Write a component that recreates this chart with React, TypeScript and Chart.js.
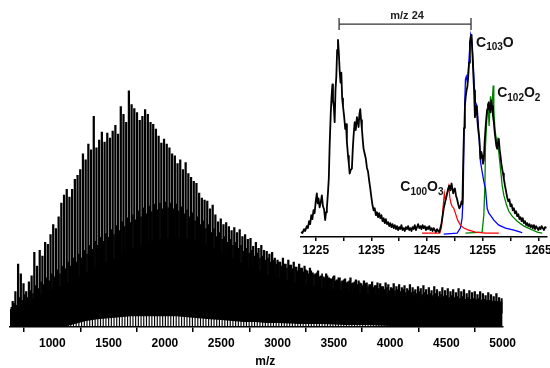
import React, { useEffect, useRef } from 'react';
import { Chart, registerables } from 'chart.js';

Chart.register(...registerables);

const FONT = '"Liberation Sans", Arial, sans-serif';

// ---------- Main spectrum data ----------
const MAJOR_START = 648; // m/z of first C2-series peak
const MINOR_START = 636; // m/z of first in-between peak
const PEAK_STEP = 24; // C2 spacing
const SPIKE_BASE = 14;

const MAJOR_TOP = [
  26, 36, 64, 54, 44, 36, 46, 52, 76, 62,
  78, 72, 86, 84, 94, 104, 100, 112, 126, 134,
  140, 132, 140, 150, 154, 160, 176, 170, 186, 180,
  214, 182, 190, 198, 188, 197, 192, 199, 205, 196,
  224, 216, 208, 240, 226, 222, 218, 210, 214, 221,
  216, 208, 206, 201, 194, 187, 191, 186, 182, 176,
  174, 166, 170, 160, 167, 156, 152, 148, 146, 136,
  131, 129, 128, 120, 124, 114, 107, 110, 104, 106,
  102, 98, 101, 96, 99, 92, 94, 89, 90, 82,
  86, 80, 83, 78, 77, 74, 76, 70, 68, 66,
  70, 64, 68, 63, 66, 61, 64, 60, 62, 57,
  60, 55, 54, 57, 52, 51, 54, 50, 49, 52,
  48, 50, 47, 49, 46, 50, 45, 48, 47, 44,
  47, 45, 43, 46, 42, 45, 44, 41, 45, 43,
  40, 44, 41, 43, 40, 42, 39, 43, 40, 38,
  41, 39, 42, 38, 40, 37, 41, 38, 36, 40,
  37, 39, 36, 38, 35, 39, 36, 38, 34, 37,
  35, 36, 33, 36, 34, 32, 35, 33, 31, 34,
  30, 29,
];

const MINOR_TOP = [
  20, 24, 22, 30, 27, 33, 30, 37, 34, 42,
  39, 46, 43, 50, 47, 54, 51, 58, 54, 62,
  59, 66, 62, 70, 66, 74, 70, 78, 74, 83,
  79, 87, 83, 91, 87, 95, 91, 99, 94, 103,
  98, 107, 102, 111, 106, 114, 109, 118, 112, 121,
  115, 123, 117, 125, 119, 126, 120, 127, 121, 126,
  120, 125, 118, 122, 115, 119, 112, 116, 108, 112,
  104, 108, 100, 104, 96, 100, 92, 96, 89, 92,
  86, 89, 83, 86, 80, 83, 77, 80, 75, 78,
  72, 75, 70, 72, 68, 70, 66, 68, 64, 66,
  62, 64, 60, 63, 59, 61, 57, 60, 56, 58,
  54, 57, 53, 55, 51, 54, 50, 52, 49, 51,
  47, 50, 46, 48, 45, 47, 44, 46, 43, 45,
  42, 44, 41, 43, 40, 42, 39, 41, 38, 40,
  37, 39, 37, 38, 36, 38, 35, 37, 35, 36,
  34, 36, 33, 35, 33, 34, 32, 34, 31, 33,
  31, 32, 30, 32, 30, 31, 29, 31, 28, 30,
  28, 29, 27, 29, 26, 28, 26, 27, 25, 26,
  24, 25,
];

const ENV_MZ = [
  624, 700, 800, 900, 1000, 1100, 1200, 1300, 1400, 1500,
  1600, 1700, 1800, 1900, 2000, 2100, 2200, 2300, 2400, 2500,
  2600, 2700, 2800, 2900, 3000, 3200, 3400, 3600, 3800, 4000,
  4200, 4400, 4600, 4800, 5000,
];
const ENV_LOW = [
  0, 0, 0, 0, 0, 0, 3, 6, 8, 9,
  10, 11, 11, 11, 11, 11, 10, 9, 8, 7,
  6, 5, 5, 4, 4, 3, 3, 2, 2, 1,
  0, 0, 0, 0, 0,
];
const ENV_DENSE = [
  18, 22, 28, 33, 38, 43, 49, 55, 61, 67,
  73, 79, 84, 88, 90, 91, 90, 87, 82, 76,
  70, 64, 59, 54, 50, 44, 40, 37, 34, 32,
  31, 30, 29, 28, 26,
];

const MAIN_TICKS = [1000, 1500, 2000, 2500, 3000, 3500, 4000, 4500, 5000];

// ---------- Inset data (m/z, intensity) ----------
const INSET_TICKS = [1225, 1230, 1235, 1240, 1245, 1250, 1255, 1260, 1265];

const INSET_BLACK: [number, number][] = [
  [1222.3, 5], [1222.6, 4], [1222.9, 8], [1223.1, 6], [1223.4, 11], [1223.6, 9], [1223.8, 16],
  [1224.0, 13], [1224.2, 22], [1224.4, 18], [1224.6, 27], [1224.8, 24], [1225.0, 36], [1225.2, 44],
  [1225.35, 34], [1225.5, 39], [1225.7, 30], [1225.9, 35], [1226.1, 42], [1226.3, 31], [1226.5, 28],
  [1226.7, 17], [1226.85, 25], [1227.0, 29], [1227.2, 45], [1227.35, 59], [1227.5, 92], [1227.7, 125],
  [1227.85, 142], [1228.0, 154], [1228.1, 138], [1228.25, 132], [1228.4, 116], [1228.55, 148],
  [1228.7, 162], [1228.85, 189], [1229.0, 199], [1229.15, 186], [1229.3, 168], [1229.45, 156],
  [1229.6, 166], [1229.75, 140], [1229.9, 132], [1230.1, 122], [1230.3, 109], [1230.45, 114],
  [1230.6, 96], [1230.8, 82], [1230.95, 74], [1231.1, 64], [1231.3, 68], [1231.5, 69], [1231.65, 88],
  [1231.8, 102], [1232.0, 116], [1232.2, 108], [1232.4, 121], [1232.55, 117], [1232.7, 111],
  [1232.85, 124], [1233.0, 129], [1233.15, 118], [1233.3, 109], [1233.45, 98], [1233.6, 89],
  [1233.8, 84], [1234.0, 79], [1234.2, 70], [1234.4, 66], [1234.6, 57], [1234.8, 49], [1235.0, 40],
  [1235.2, 32], [1235.4, 27], [1235.6, 29], [1235.8, 22], [1236.0, 25], [1236.2, 20], [1236.4, 24],
  [1236.6, 19], [1236.8, 22], [1237.0, 16], [1237.2, 19], [1237.4, 14], [1237.6, 18], [1237.8, 13],
  [1238.0, 15], [1238.2, 11], [1238.4, 14], [1238.6, 10], [1238.8, 13], [1239.0, 9], [1239.2, 12],
  [1239.4, 8], [1239.6, 11], [1239.8, 7], [1240.0, 10], [1240.2, 8], [1240.4, 12], [1240.6, 7],
  [1240.8, 9], [1241.0, 6], [1241.2, 10], [1241.4, 8], [1241.6, 11], [1241.8, 7], [1242.0, 9],
  [1242.2, 6], [1242.4, 10], [1242.6, 8], [1242.8, 12], [1243.0, 7], [1243.2, 10], [1243.4, 13],
  [1243.6, 9], [1243.8, 11], [1244.0, 8], [1244.2, 12], [1244.4, 9], [1244.6, 11], [1244.8, 7],
  [1245.0, 10], [1245.2, 8], [1245.4, 11], [1245.6, 7], [1245.8, 9], [1246.0, 6], [1246.2, 9],
  [1246.4, 7], [1246.6, 5], [1246.8, 8], [1247.0, 6], [1247.2, 5], [1247.4, 9], [1247.6, 14],
  [1247.8, 21], [1248.0, 29], [1248.2, 34], [1248.4, 39], [1248.6, 44], [1248.8, 49], [1249.0, 52],
  [1249.2, 47], [1249.4, 54], [1249.55, 49], [1249.7, 44], [1249.85, 48], [1250.0, 49], [1250.2, 42],
  [1250.4, 38], [1250.6, 33], [1250.8, 29], [1251.0, 31], [1251.2, 36], [1251.35, 33], [1251.5, 76],
  [1251.65, 110], [1251.8, 132], [1251.95, 142], [1252.1, 148], [1252.25, 152], [1252.4, 162],
  [1252.55, 176], [1252.7, 196], [1252.85, 202], [1253.0, 204], [1253.15, 186], [1253.3, 166],
  [1253.45, 148], [1253.6, 121], [1253.75, 128], [1253.9, 132], [1254.05, 118], [1254.2, 108],
  [1254.4, 99], [1254.6, 79], [1254.75, 86], [1254.9, 82], [1255.05, 74], [1255.2, 78], [1255.35, 96],
  [1255.5, 109], [1255.65, 120], [1255.8, 129], [1255.95, 134], [1256.1, 136], [1256.25, 128],
  [1256.4, 126], [1256.55, 138], [1256.7, 132], [1256.85, 122], [1257.0, 116], [1257.15, 106],
  [1257.3, 99], [1257.45, 92], [1257.6, 89], [1257.75, 96], [1257.9, 99], [1258.05, 88], [1258.2, 82],
  [1258.35, 74], [1258.5, 69], [1258.65, 64], [1258.8, 59], [1259.0, 52], [1259.2, 46], [1259.4, 40],
  [1259.6, 36], [1259.8, 38], [1260.0, 31], [1260.2, 33], [1260.4, 27], [1260.6, 29], [1260.8, 24],
  [1261.0, 26], [1261.2, 21], [1261.4, 23], [1261.6, 18], [1261.8, 20], [1262.0, 16], [1262.2, 19],
  [1262.4, 14], [1262.6, 16], [1262.8, 12], [1263.0, 14], [1263.2, 11], [1263.4, 13], [1263.6, 10],
  [1263.8, 12], [1264.0, 9], [1264.2, 12], [1264.4, 8], [1264.6, 11], [1264.8, 9], [1265.0, 7],
  [1265.2, 10], [1265.4, 8], [1265.6, 11], [1265.8, 9], [1266.0, 7], [1266.2, 10], [1266.5, 9],
];

// simulated isotope pattern C100O3
const INSET_RED: [number, number][] = [
  [1244.1, 4], [1247.3, 4], [1247.6, 10], [1247.85, 28], [1248.1, 44], [1248.3, 37], [1248.5, 40],
  [1248.9, 51], [1249.1, 40], [1249.3, 34], [1249.5, 31], [1249.8, 29], [1250.1, 24], [1250.5, 17],
  [1251.0, 12], [1251.6, 9], [1252.5, 7], [1253.7, 5], [1255.5, 4], [1257.9, 4],
];
// simulated isotope pattern C103O
const INSET_BLUE: [number, number][] = [
  [1248.0, 3], [1250.4, 4], [1251.0, 9], [1251.3, 19], [1251.5, 42], [1251.65, 109], [1251.9, 159],
  [1252.05, 162], [1252.25, 156], [1252.4, 166], [1252.6, 185], [1252.85, 204], [1253.0, 200],
  [1253.3, 175], [1253.5, 152], [1253.7, 136], [1254.0, 132], [1254.3, 106], [1254.6, 76],
  [1254.9, 66], [1255.2, 56], [1255.5, 49], [1255.8, 29], [1256.1, 24], [1256.5, 21], [1257.0, 17],
  [1257.9, 12], [1259.1, 9], [1260.6, 7], [1261.8, 5], [1262.1, 4],
];
// simulated isotope pattern C102O2
const INSET_GREEN: [number, number][] = [
  [1251.9, 4], [1254.9, 5], [1255.2, 22], [1255.4, 52], [1255.5, 92], [1255.8, 126], [1256.0, 129],
  [1256.15, 112], [1256.4, 142], [1256.6, 129], [1256.9, 153], [1257.0, 129], [1257.2, 109],
  [1257.5, 96], [1257.7, 99], [1257.95, 82], [1258.2, 69], [1258.5, 52], [1258.8, 42], [1259.3, 32],
  [1259.7, 26], [1260.3, 21], [1261.2, 16], [1262.4, 11], [1263.6, 8], [1264.8, 5], [1265.7, 4],
];

const SPACING_MARK = [1229.2, 1252.9];
const SPACING_LABEL = 'm/z 24';
const SPACING_LEVEL = 215;

type Part = [string, boolean];
const FORMULA_LABELS: { parts: Part[]; mz: number; h: number }[] = [
  { parts: [['C', false], ['103', true], ['O', false]], mz: 1253.8, h: 197 },
  { parts: [['C', false], ['102', true], ['O', false], ['2', true]], mz: 1257.6, h: 146 },
  { parts: [['C', false], ['100', true], ['O', false], ['3', true]], mz: 1240.2, h: 51 },
];

const W = 550;
const H = 368;

function drawFormula(ctx: CanvasRenderingContext2D, x: number, yMid: number, parts: Part[]) {
  let cx = x;
  const base = yMid + 5;
  ctx.textAlign = 'left';
  ctx.textBaseline = 'alphabetic';
  for (const [t, sub] of parts) {
    ctx.font = sub ? `bold 10px ${FONT}` : `bold 14px ${FONT}`;
    ctx.fillText(t, cx, sub ? base + 3.5 : base);
    cx += ctx.measureText(t).width;
  }
}

export default function App() {
  const mainRef = useRef<HTMLCanvasElement>(null);
  const insetRef = useRef<HTMLCanvasElement>(null);

  useEffect(() => {
    const mainTitle = {
      id: 'mainTitle',
      afterDraw(chart: any) {
        const ctx = chart.ctx;
        const a = chart.chartArea;
        ctx.save();
        ctx.fillStyle = '#000';
        ctx.font = `bold 12px ${FONT}`;
        ctx.textAlign = 'center';
        ctx.textBaseline = 'middle';
        ctx.fillText('m/z', a.left + (a.right - a.left) * 0.518, 362);
        ctx.restore();
      },
    };

    const minorX = (i: number) => MINOR_START + PEAK_STEP * i;
    const majorX = (i: number) => MAJOR_START + PEAK_STEP * i;

    const main = new Chart(mainRef.current!, {
      type: 'bar',
      data: {
        datasets: [
          {
            type: 'line',
            data: ENV_MZ.map((m, i) => ({ x: m, y: ENV_LOW[i] })),
            borderWidth: 0,
            pointRadius: 0,
            fill: false,
            order: 6,
          } as any,
          {
            type: 'line',
            data: ENV_MZ.map((m, i) => ({ x: m, y: ENV_DENSE[i] })),
            borderWidth: 0,
            pointRadius: 0,
            fill: '-1',
            backgroundColor: '#000',
            order: 5,
          } as any,
          {
            // foot of the in-between peaks, crossing the baseline strip
            type: 'bar',
            data: MINOR_TOP.map((_, i) => ({ x: minorX(i), y: [0, SPIKE_BASE] })),
            backgroundColor: '#000',
            borderWidth: 0,
            barThickness: 0.5,
            grouped: false,
            order: 4,
          } as any,
          {
            type: 'bar',
            data: MINOR_TOP.map((v, i) => ({ x: minorX(i), y: [SPIKE_BASE, v] })),
            backgroundColor: '#000',
            borderWidth: 0,
            barThickness: 1.0,
            grouped: false,
            order: 3,
          } as any,
          {
            type: 'bar',
            data: MAJOR_TOP.map((v, i) => ({ x: majorX(i), y: [SPIKE_BASE, v] })),
            backgroundColor: '#000',
            borderWidth: 0,
            barThickness: 1.6,
            grouped: false,
            order: 2,
          } as any,
        ],
      },
      options: {
        animation: false,
        responsive: false,
        devicePixelRatio: 1,
        events: [],
        layout: { padding: { left: 10, right: 47.3, top: 80, bottom: 13.6 } },
        plugins: { legend: { display: false }, tooltip: { enabled: false } },
        scales: {
          x: {
            type: 'linear',
            min: 624,
            max: 5000,
            offset: false,
            afterBuildTicks: (axis: any) => {
              axis.ticks = MAIN_TICKS.map((v) => ({ value: v }));
            },
            grid: {
              display: true,
              drawOnChartArea: false,
              drawTicks: true,
              tickLength: 5,
              tickColor: '#000',
              lineWidth: 1.5,
            },
            border: { display: true, color: '#000', width: 1.5 },
            ticks: {
              autoSkip: false,
              maxRotation: 0,
              padding: 4,
              color: '#000',
              font: { family: FONT, size: 12, weight: 'bold' },
              callback: (v: any) => String(v),
            },
          },
          y: { display: false, min: 0, max: 251 },
        },
      } as any,
      plugins: [mainTitle],
    });

    const insetDecor = {
      id: 'insetDecor',
      afterDraw(chart: any) {
        const ctx = chart.ctx as CanvasRenderingContext2D;
        const xs = chart.scales.x;
        const ys = chart.scales.y;
        ctx.save();
        const x1 = xs.getPixelForValue(SPACING_MARK[0]);
        const x2 = xs.getPixelForValue(SPACING_MARK[1]);
        const yl = ys.getPixelForValue(SPACING_LEVEL);
        ctx.strokeStyle = '#333';
        ctx.lineWidth = 1.3;
        ctx.beginPath();
        ctx.moveTo(x1, yl - 6);
        ctx.lineTo(x1, yl + 6);
        ctx.moveTo(x1, yl);
        ctx.lineTo(x2, yl);
        ctx.moveTo(x2, yl - 6);
        ctx.lineTo(x2, yl + 6);
        ctx.stroke();
        ctx.fillStyle = '#222';
        ctx.font = `bold 11px ${FONT}`;
        ctx.textAlign = 'center';
        ctx.textBaseline = 'middle';
        ctx.fillText(SPACING_LABEL, (x1 + x2) / 2 + 2, yl - 8);
        ctx.fillStyle = '#111';
        for (const l of FORMULA_LABELS) {
          drawFormula(ctx, xs.getPixelForValue(l.mz), ys.getPixelForValue(l.h), l.parts);
        }
        ctx.restore();
      },
    };

    const toXY = (arr: [number, number][]) => arr.map(([x, y]) => ({ x, y }));

    const inset = new Chart(insetRef.current!, {
      type: 'line',
      data: {
        datasets: [
          {
            data: toXY(INSET_BLACK),
            borderColor: '#000',
            borderWidth: 1.8,
            borderJoinStyle: 'round',
            pointRadius: 0,
            order: 1,
          },
          {
            data: toXY(INSET_RED),
            borderColor: '#ff0000',
            borderWidth: 1.2,
            pointRadius: 0,
            order: 2,
          },
          {
            data: toXY(INSET_BLUE),
            borderColor: '#0000ff',
            borderWidth: 1.3,
            pointRadius: 0,
            order: 3,
          },
          {
            data: toXY(INSET_GREEN),
            borderColor: '#008000',
            borderWidth: 1.3,
            pointRadius: 0,
            order: 4,
          },
        ],
      },
      options: {
        animation: false,
        responsive: false,
        devicePixelRatio: 1,
        events: [],
        layout: { padding: { left: 300.7, right: 3.3, top: 30, bottom: 108.6 } },
        plugins: { legend: { display: false }, tooltip: { enabled: false } },
        scales: {
          x: {
            type: 'linear',
            min: 1222.3,
            max: 1266.5,
            afterBuildTicks: (axis: any) => {
              axis.ticks = INSET_TICKS.map((v) => ({ value: v }));
            },
            afterFit: (scale: any) => {
              scale.paddingLeft = 0;
              scale.paddingRight = 0;
            },
            grid: {
              display: true,
              drawOnChartArea: false,
              drawTicks: true,
              tickLength: 4,
              tickColor: '#000',
              lineWidth: 1.5,
            },
            border: { display: true, color: '#000', width: 1.5 },
            ticks: {
              autoSkip: false,
              maxRotation: 0,
              padding: 2,
              color: '#000',
              font: { family: FONT, size: 12, weight: 'bold' },
              callback: (v: any) => (Number(v) % 10 === 5 ? String(v) : ''),
            },
          },
          y: { display: false, min: 0, max: 209 },
        },
      } as any,
      plugins: [insetDecor],
    });

    return () => {
      main.destroy();
      inset.destroy();
    };
  }, []);

  return (
    <div style={{ position: 'absolute', left: 0, top: 0, width: W, height: H, background: '#fff' }}>
      <canvas ref={mainRef} width={W} height={H} style={{ position: 'absolute', left: 0, top: 0 }} />
      <canvas
        ref={insetRef}
        width={W}
        height={H}
        style={{ position: 'absolute', left: 0, top: 0, pointerEvents: 'none' }}
      />
    </div>
  );
}
